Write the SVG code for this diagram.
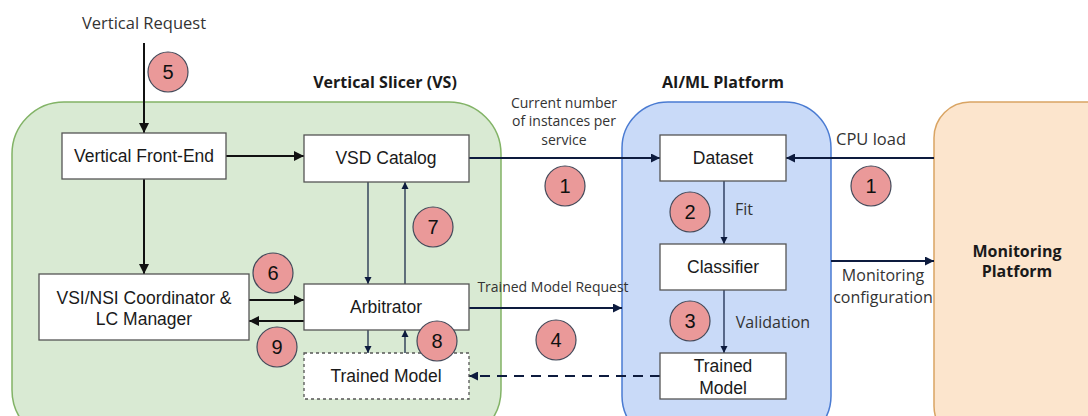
<svg xmlns="http://www.w3.org/2000/svg" width="1088" height="416" viewBox="0 0 1088 416">
  <defs>
    <marker id="ah" viewBox="0 0 10 10" refX="10" refY="5" markerWidth="10" markerHeight="10" markerUnits="userSpaceOnUse" orient="auto">
      <path d="M0,0 L10,5 L0,10 Z" fill="#111"/>
    </marker>
    <marker id="ahn" viewBox="0 0 10 10" refX="10" refY="5" markerWidth="9" markerHeight="9" markerUnits="userSpaceOnUse" orient="auto">
      <path d="M0,0 L10,5 L0,10 Z" fill="#0d1b3e"/>
    </marker>
    <marker id="ahs" viewBox="0 0 10 10" refX="10" refY="5" markerWidth="7" markerHeight="8" markerUnits="userSpaceOnUse" orient="auto">
      <path d="M0,0 L10,5 L0,10 Z" fill="#0d1b3e"/>
    </marker>
  </defs>
  <style>
    .box { fill: #ffffff; stroke: #555555; stroke-width: 1.3; }
    .dash { fill: #ffffff; stroke: #555555; stroke-width: 1.3; stroke-dasharray: 3 3; }
    .bt { font-family: "Liberation Sans", Arial, sans-serif; font-size: 17.5px; fill: #1a1a1a; text-anchor: middle; }
    .lbl { font-family: "Open Sans", "Noto Sans", sans-serif; fill: #333333; text-anchor: middle; }
    .ttl { font-family: "Open Sans", "Noto Sans", sans-serif; font-weight: bold; font-size: 16px; fill: #1a1a1a; text-anchor: middle; }
    .num circle { fill: #ea9999; stroke: #434a5a; stroke-width: 1.2; }
    .num text { font-family: "Liberation Sans", Arial, sans-serif; font-size: 20px; fill: #111; text-anchor: middle; }
    .k { stroke: #111111; stroke-width: 2; fill: none; }
    .n { stroke: #0d1b3e; stroke-width: 2; fill: none; }
    .t { stroke: #0d1b3e; stroke-width: 1.2; fill: none; }
  </style>

  <!-- containers -->
  <g id="vertical-slicer">
    <rect x="12" y="102" width="489" height="340" rx="52" fill="#d9ead3" stroke="#82b366" stroke-width="1.5"/>
    <text class="ttl" x="385" y="88">Vertical Slicer (VS)</text>
  </g>
  <g id="aiml-platform">
    <rect x="622" y="102" width="209" height="340" rx="46" fill="#c9daf8" stroke="#4a7bd2" stroke-width="1.5"/>
    <text class="ttl" x="723" y="88">AI/ML Platform</text>
  </g>
  <g id="monitoring-platform">
    <rect x="934" y="102" width="200" height="340" rx="36" fill="#fce5cd" stroke="#d9a463" stroke-width="1.5"/>
    <text class="ttl" x="1017" y="257">Monitoring</text>
    <text class="ttl" x="1017" y="277">Platform</text>
  </g>

  <!-- connectors -->
  <g id="connectors">
    <line class="k" x1="144" y1="43" x2="144" y2="133" marker-end="url(#ah)"/>
    <line class="k" x1="226" y1="156" x2="304" y2="156" marker-end="url(#ah)"/>
    <line class="k" x1="144" y1="179" x2="144" y2="274" marker-end="url(#ah)"/>
    <line class="k" x1="249" y1="300" x2="304" y2="300" marker-end="url(#ah)"/>
    <line class="k" x1="304" y1="321" x2="249" y2="321" marker-end="url(#ah)"/>
    <line class="t" x1="368" y1="182" x2="368" y2="284" marker-end="url(#ahs)"/>
    <line class="t" x1="405" y1="284" x2="405" y2="182" marker-end="url(#ahs)"/>
    <line class="t" x1="368" y1="330" x2="368" y2="353" marker-end="url(#ahs)"/>
    <line class="t" x1="405" y1="353" x2="405" y2="330" marker-end="url(#ahs)"/>
    <line class="n" x1="469" y1="158" x2="660" y2="158" marker-end="url(#ahn)"/>
    <line class="n" x1="934" y1="158" x2="786" y2="158" marker-end="url(#ahn)"/>
    <line class="t" x1="724" y1="181" x2="724" y2="244" marker-end="url(#ahs)"/>
    <line class="t" x1="724" y1="290" x2="724" y2="353" marker-end="url(#ahs)"/>
    <line class="n" x1="469" y1="308" x2="622" y2="308" marker-end="url(#ahn)"/>
    <line class="n" x1="660" y1="376" x2="469" y2="376" stroke-dasharray="10 7" marker-end="url(#ahn)"/>
    <line class="n" x1="831" y1="261" x2="934" y2="261" marker-end="url(#ahn)"/>

    <text class="lbl" x="144" y="29" font-size="16.5">Vertical Request</text>
    <text class="lbl" x="564" y="108" font-size="14">Current number</text>
    <text class="lbl" x="564" y="126" font-size="14">of instances per</text>
    <text class="lbl" x="564" y="145" font-size="14">service</text>
    <text class="lbl" x="871" y="145" font-size="16.5">CPU load</text>
    <text class="lbl" x="744" y="215" font-size="16">Fit</text>
    <text class="lbl" x="773" y="328" font-size="16">Validation</text>
    <text class="lbl" x="553" y="292" font-size="14" fill="#3a4a5a">Trained Model Request</text>
    <text class="lbl" x="883" y="281" font-size="16">Monitoring</text>
    <text class="lbl" x="883" y="303" font-size="16">configuration</text>
  </g>

  <!-- nodes -->
  <g id="vertical-front-end">
    <rect class="box" x="62" y="133" width="164" height="46"/>
    <text class="bt" x="144" y="162">Vertical Front-End</text>
  </g>
  <g id="vsd-catalog">
    <rect class="box" x="304" y="135" width="165" height="47"/>
    <text class="bt" x="386" y="164">VSD Catalog</text>
  </g>
  <g id="vsi-nsi-coordinator">
    <rect class="box" x="39" y="274" width="210" height="66"/>
    <text class="bt" x="144" y="304">VSI/NSI Coordinator &amp;</text>
    <text class="bt" x="144" y="325">LC Manager</text>
  </g>
  <g id="arbitrator">
    <rect class="box" x="304" y="284" width="165" height="46"/>
    <text class="bt" x="386" y="313">Arbitrator</text>
  </g>
  <g id="vs-trained-model">
    <rect class="dash" x="304" y="353" width="165" height="46"/>
    <text class="bt" x="386" y="382">Trained Model</text>
  </g>
  <g id="dataset">
    <rect class="box" x="660" y="135" width="126" height="46"/>
    <text class="bt" x="723" y="164">Dataset</text>
  </g>
  <g id="classifier">
    <rect class="box" x="660" y="244" width="126" height="46"/>
    <text class="bt" x="723" y="273">Classifier</text>
  </g>
  <g id="aiml-trained-model">
    <rect class="box" x="660" y="353" width="126" height="46"/>
    <text class="bt" x="723" y="372">Trained</text>
    <text class="bt" x="723" y="394">Model</text>
  </g>

  <!-- step markers -->
  <g id="step-5" class="num"><circle cx="168" cy="72" r="20"/><text x="168" y="79">5</text></g>
  <g id="step-7" class="num"><circle cx="433" cy="227" r="20"/><text x="433" y="234">7</text></g>
  <g id="step-6" class="num"><circle cx="273" cy="273" r="20"/><text x="273" y="280">6</text></g>
  <g id="step-9" class="num"><circle cx="277" cy="347" r="20"/><text x="277" y="354">9</text></g>
  <g id="step-8" class="num"><circle cx="437" cy="341" r="20"/><text x="437" y="348">8</text></g>
  <g id="step-1a" class="num"><circle cx="565" cy="186" r="20"/><text x="565" y="193">1</text></g>
  <g id="step-1b" class="num"><circle cx="871" cy="186" r="20"/><text x="871" y="193">1</text></g>
  <g id="step-2" class="num"><circle cx="690" cy="212" r="20"/><text x="690" y="219">2</text></g>
  <g id="step-3" class="num"><circle cx="690" cy="321" r="20"/><text x="690" y="328">3</text></g>
  <g id="step-4" class="num"><circle cx="556" cy="340" r="20"/><text x="556" y="347">4</text></g>
</svg>
